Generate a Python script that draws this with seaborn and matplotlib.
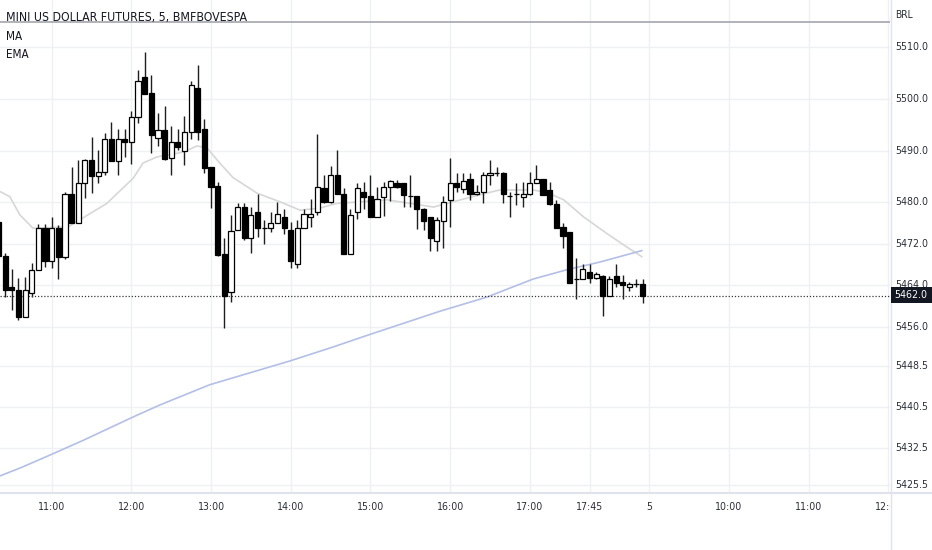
import numpy as np
import pandas as pd
import matplotlib
matplotlib.use("Agg")
import matplotlib.pyplot as plt
from matplotlib.patches import Rectangle
from matplotlib.transforms import Bbox, TransformedBbox, blended_transform_factory
from matplotlib import font_manager
import seaborn as sns

# ---------------- data ----------------
bar_idx = list(range(-8, 90))  # 5-minute bars, 0 = 11:00
opens = [5476.2, 5469.7, 5463.7, 5463.1, 5457.9, 5462.6, 5467.0, 5475.1, 5468.6, 5475.1,
         5469.5, 5481.6, 5476.1, 5483.7, 5488.2, 5485.1, 5485.9, 5492.2, 5488.0, 5492.2,
         5491.7, 5496.5, 5504.2, 5501.1, 5492.5, 5494.0, 5488.5, 5491.7, 5490.0, 5493.6,
         5502.0, 5494.1, 5486.8, 5483.2, 5470.0, 5462.7, 5474.7, 5479.1, 5473.1, 5478.2,
         5475.0, 5475.0, 5476.1, 5477.2, 5474.7, 5468.1, 5475.0, 5477.2, 5478.2, 5482.7,
         5480.1, 5485.3, 5481.6, 5470.0, 5478.2, 5482.1, 5481.2, 5477.1, 5481.1, 5483.0,
         5483.8, 5483.8, 5481.2, 5481.2, 5478.7, 5477.2, 5472.6, 5476.5, 5480.5, 5483.7,
         5482.5, 5484.6, 5481.6, 5482.1, 5485.2, 5485.6, 5485.6, 5481.2, 5481.6, 5481.1,
         5481.6, 5483.8, 5484.6, 5482.3, 5479.7, 5475.2, 5474.2, 5465.2, 5465.2, 5466.6,
         5465.5, 5465.7, 5461.9, 5465.7, 5464.6, 5463.7, 5464.2, 5464.2]
highs = [5477.0, 5470.2, 5467.1, 5465.4, 5465.6, 5468.3, 5475.8, 5475.8, 5477.2, 5475.6,
         5482.0, 5486.9, 5488.2, 5488.4, 5492.6, 5490.1, 5493.4, 5495.6, 5494.1, 5494.1,
         5497.6, 5505.6, 5509.0, 5504.6, 5497.2, 5498.7, 5494.7, 5494.1, 5496.7, 5503.5,
         5506.5, 5496.1, 5486.9, 5484.0, 5473.1, 5477.6, 5479.8, 5479.8, 5479.2, 5481.6,
         5476.6, 5478.2, 5480.1, 5478.7, 5476.3, 5476.6, 5478.7, 5480.6, 5493.2, 5485.3,
         5487.0, 5490.1, 5482.7, 5478.7, 5483.8, 5484.0, 5485.3, 5483.0, 5484.0, 5484.3,
         5484.3, 5483.8, 5485.3, 5481.2, 5479.0, 5477.2, 5477.2, 5481.2, 5488.5, 5485.6,
         5485.6, 5485.6, 5483.4, 5485.9, 5488.2, 5486.9, 5485.9, 5482.1, 5483.8, 5484.0,
         5485.9, 5487.2, 5484.6, 5484.0, 5480.5, 5476.1, 5474.2, 5469.2, 5468.1, 5468.1,
         5466.6, 5466.0, 5465.7, 5468.1, 5466.0, 5464.7, 5465.2, 5465.2]
lows = [5469.0, 5461.7, 5459.2, 5457.3, 5457.9, 5461.7, 5467.0, 5467.6, 5467.3, 5465.3,
        5469.0, 5476.0, 5476.0, 5480.8, 5481.8, 5483.8, 5485.3, 5487.9, 5485.3, 5488.7,
        5487.5, 5495.3, 5500.9, 5489.6, 5490.8, 5488.2, 5485.3, 5490.1, 5487.2, 5492.2,
        5492.0, 5485.7, 5478.9, 5469.7, 5455.7, 5460.8, 5474.7, 5472.7, 5470.2, 5473.4,
        5472.0, 5474.3, 5476.0, 5473.9, 5467.3, 5467.3, 5475.0, 5475.3, 5477.6, 5479.9,
        5479.9, 5481.6, 5470.0, 5470.0, 5476.7, 5478.7, 5477.1, 5477.1, 5477.4, 5480.3,
        5482.8, 5479.2, 5479.1, 5474.8, 5474.7, 5470.7, 5470.7, 5471.1, 5475.2, 5482.1,
        5481.8, 5480.5, 5481.4, 5479.9, 5483.4, 5485.0, 5479.8, 5477.2, 5479.5, 5479.2,
        5481.4, 5483.7, 5481.4, 5479.5, 5475.0, 5471.1, 5464.5, 5461.3, 5465.2, 5464.5,
        5465.2, 5458.1, 5461.9, 5463.7, 5461.3, 5462.8, 5463.7, 5460.6]
closes = [5469.7, 5463.1, 5463.1, 5457.9, 5463.1, 5467.0, 5475.1, 5468.6, 5475.1, 5469.5,
          5481.6, 5476.1, 5483.7, 5488.2, 5485.1, 5485.9, 5492.2, 5488.0, 5492.2, 5491.7,
          5496.5, 5503.5, 5500.9, 5493.1, 5494.0, 5488.4, 5491.7, 5490.6, 5493.6, 5502.7,
          5493.5, 5486.6, 5483.0, 5469.8, 5461.9, 5474.5, 5479.1, 5473.1, 5477.6, 5475.0,
          5475.0, 5476.1, 5477.7, 5475.0, 5468.6, 5475.0, 5477.7, 5477.7, 5483.0, 5480.1,
          5485.3, 5481.6, 5470.0, 5477.6, 5482.7, 5481.1, 5477.1, 5480.6, 5483.0, 5484.1,
          5483.0, 5481.4, 5481.2, 5478.7, 5476.5, 5473.1, 5476.6, 5480.1, 5483.7, 5483.0,
          5484.1, 5481.6, 5482.1, 5485.3, 5485.6, 5485.6, 5481.6, 5481.2, 5481.6, 5481.6,
          5483.8, 5484.6, 5481.4, 5479.7, 5475.0, 5473.5, 5464.5, 5465.2, 5467.1, 5465.5,
          5466.2, 5461.9, 5465.2, 5464.5, 5464.0, 5464.2, 5464.2, 5462.0]

# moving averages (bar index, price)
ma_idx = [-7.8, -6.3, -4.8, -2.8, 2.5, 8.3, 12.3, 13.75, 15.9, 19.8, 21.9, 23.4, 25.3,
          27.3, 30.9, 34.4, 37.4, 40.4, 42.9, 46.4, 50.5, 54.0, 57.5, 59.5, 62.5, 65.5,
          67.5, 72.5, 74.6, 77.1, 80.1, 83.6, 86.6, 88.9]
ma_val = [5482.1, 5481.1, 5477.6, 5475.0, 5475.3, 5479.8, 5484.7, 5487.6, 5488.8, 5489.7,
          5490.9, 5490.5, 5487.6, 5484.8, 5481.8, 5480.1, 5478.5, 5478.9, 5479.8, 5480.1,
          5480.5, 5479.8, 5479.1, 5479.8, 5480.8, 5481.8, 5482.4, 5482.4, 5481.9, 5480.5,
          5477.2, 5474.0, 5471.4, 5469.5]
ema_idx = [-7.8, -4.8, -0.3, 4.8, 12.3, 16.3, 23.8, 35.9, 42.4, 47.9, 58.5, 65.5, 72.5,
           77.6, 82.6, 88.9]
ema_val = [5427.2, 5428.7, 5431.2, 5434.1, 5438.6, 5440.9, 5444.8, 5449.4, 5452.1, 5454.5,
           5459.0, 5461.7, 5465.2, 5467.0, 5468.5, 5470.7]

y_ticks = [5510.0, 5500.0, 5490.0, 5480.0, 5472.0, 5464.0, 5456.0, 5448.5, 5440.5,
           5432.5, 5425.5]
x_tick_pos = [0, 12, 24, 36, 48, 60, 72, 81, 90, 102, 114, 126]
x_tick_lab = ["11:00", "12:00", "13:00", "14:00", "15:00", "16:00", "17:00", "17:45",
              "5", "10:00", "11:00", "12:00"]
last_price = 5462.0
top_line_price = 5514.9
title = "MINI US DOLLAR FUTURES, 5, BMFBOVESPA"
legend_names = ["MA", "EMA"]
currency = "BRL"

df = pd.DataFrame({"i": bar_idx, "o": opens, "h": highs, "l": lows, "c": closes})

# ---------------- fonts ----------------
fl = font_manager.fontManager.ttflist
names = {f.name for f in fl}
if "Liberation Sans Narrow" in names:
    FAM, STRETCH, K = "Liberation Sans Narrow", "normal", 1.0
elif any(f.name == "DejaVu Sans" and f.stretch in ("condensed", 500 - 125) for f in fl):
    FAM, STRETCH, K = "DejaVu Sans", "condensed", 0.88
else:
    FAM, STRETCH, K = "Roboto", "normal", 0.80

def fnt(size):
    return dict(family=[FAM, "DejaVu Sans"], fontstretch=STRETCH, fontsize=size * K)

# ---------------- style ----------------
sns.set_theme(style="white")
plt.rcParams["font.family"] = [FAM, "DejaVu Sans"]

W, H = 932, 550
fig = plt.figure(figsize=(W / 100, H / 100), dpi=100)
fig.patch.set_facecolor("white")
ax = fig.add_axes([0, (H - 493) / H, 890 / W, 493 / H])
ax.set_facecolor("white")

ax.set_xlim(-7.786, 126.25)
ax.set_ylim(5423.9, 5519.07)

for s in ax.spines.values():
    s.set_visible(False)

grid_c = "#eef0f3"
ax.set_yticks(y_ticks)
ax.set_yticklabels([])
ax.set_xticks(x_tick_pos)
ax.set_xticklabels([])
ax.grid(True, color=grid_c, lw=1.0)
ax.set_axisbelow(True)
ax.tick_params(length=0)

# moving averages via seaborn
sns.lineplot(x=ma_idx, y=ma_val, ax=ax, color="#d7d7d7", lw=1.2, sort=False, zorder=1.5)
sns.lineplot(x=ema_idx, y=ema_val, ax=ax, color="#b3bfe6", lw=1.2, sort=False, zorder=1.5)

# candles
ax.vlines(df["i"], df["l"], df["h"], color="#1e1e1e", lw=1.0, zorder=2)
up = df["c"] >= df["o"]
body_w = 0.78
ax.bar(df.loc[up, "i"], (df.loc[up, "c"] - df.loc[up, "o"]), bottom=df.loc[up, "o"],
       width=body_w, facecolor="white", edgecolor="#000000", lw=0.9, zorder=3)
dn = ~up
ax.bar(df.loc[dn, "i"], (df.loc[dn, "o"] - df.loc[dn, "c"]), bottom=df.loc[dn, "c"],
       width=body_w, facecolor="#000000", edgecolor="#000000", lw=0.9, zorder=3)

# last price dotted line and top line
ax.axhline(last_price, color="#3a3a3a", lw=0.9, ls=(0, (1, 1.5)), zorder=2.5)
ax.axhline(top_line_price, color="#a3a6ad", lw=1.2, zorder=2.5)

# price scale labels
ytr = blended_transform_factory(fig.transFigure, ax.transData)
for v in y_ticks:
    ax.text(895 / W, v, f"{v:.1f}", transform=ytr, ha="left", va="center",
            color="#2a2e39", clip_on=False, **fnt(8.6))

# time scale labels (last one clipped at the price scale)
clip = TransformedBbox(Bbox([[0, 0], [890 / W, 1]]), fig.transFigure)
xtr = blended_transform_factory(ax.transData, fig.transFigure)
for p, t in zip(x_tick_pos, x_tick_lab):
    tx = ax.text(p, (H - 507) / H, t, transform=xtr, ha="center", va="center",
                 color="#2a2e39", **fnt(8.6))
    tx.set_clip_on(True)
    tx.set_clip_box(clip)

# frame lines
fig.add_artist(plt.Line2D([890.5 / W, 890.5 / W], [0, 1], transform=fig.transFigure,
                          color="#e0e3eb", lw=1.0))
fig.add_artist(plt.Line2D([0, 1], [(H - 493) / H, (H - 493) / H], transform=fig.transFigure,
                          color="#e0e3eb", lw=1.5))

# header texts
fig.text(6 / W, 1 - 18 / H, title, ha="left", va="center", color="#131722", **fnt(10))
fig.text(6 / W, 1 - 36 / H, legend_names[0], ha="left", va="center", color="#131722", **fnt(9.5))
fig.text(6 / W, 1 - 54 / H, legend_names[1], ha="left", va="center", color="#131722", **fnt(9.5))
fig.text(895 / W, 1 - 15 / H, currency, ha="left", va="center", color="#2a2e39", **fnt(8.3))

# price label box
fig.add_artist(Rectangle((890.7 / W, 1 - 303.3 / H), 41.3 / W, 16.6 / H, transform=fig.transFigure,
                         facecolor="#131722", edgecolor="none", zorder=5))
fig.text(894.5 / W, 1 - 295 / H, f"{last_price:.1f}", ha="left", va="center",
         color="white", zorder=6, **fnt(8.6))

fig.savefig("out.png", dpi=100)
